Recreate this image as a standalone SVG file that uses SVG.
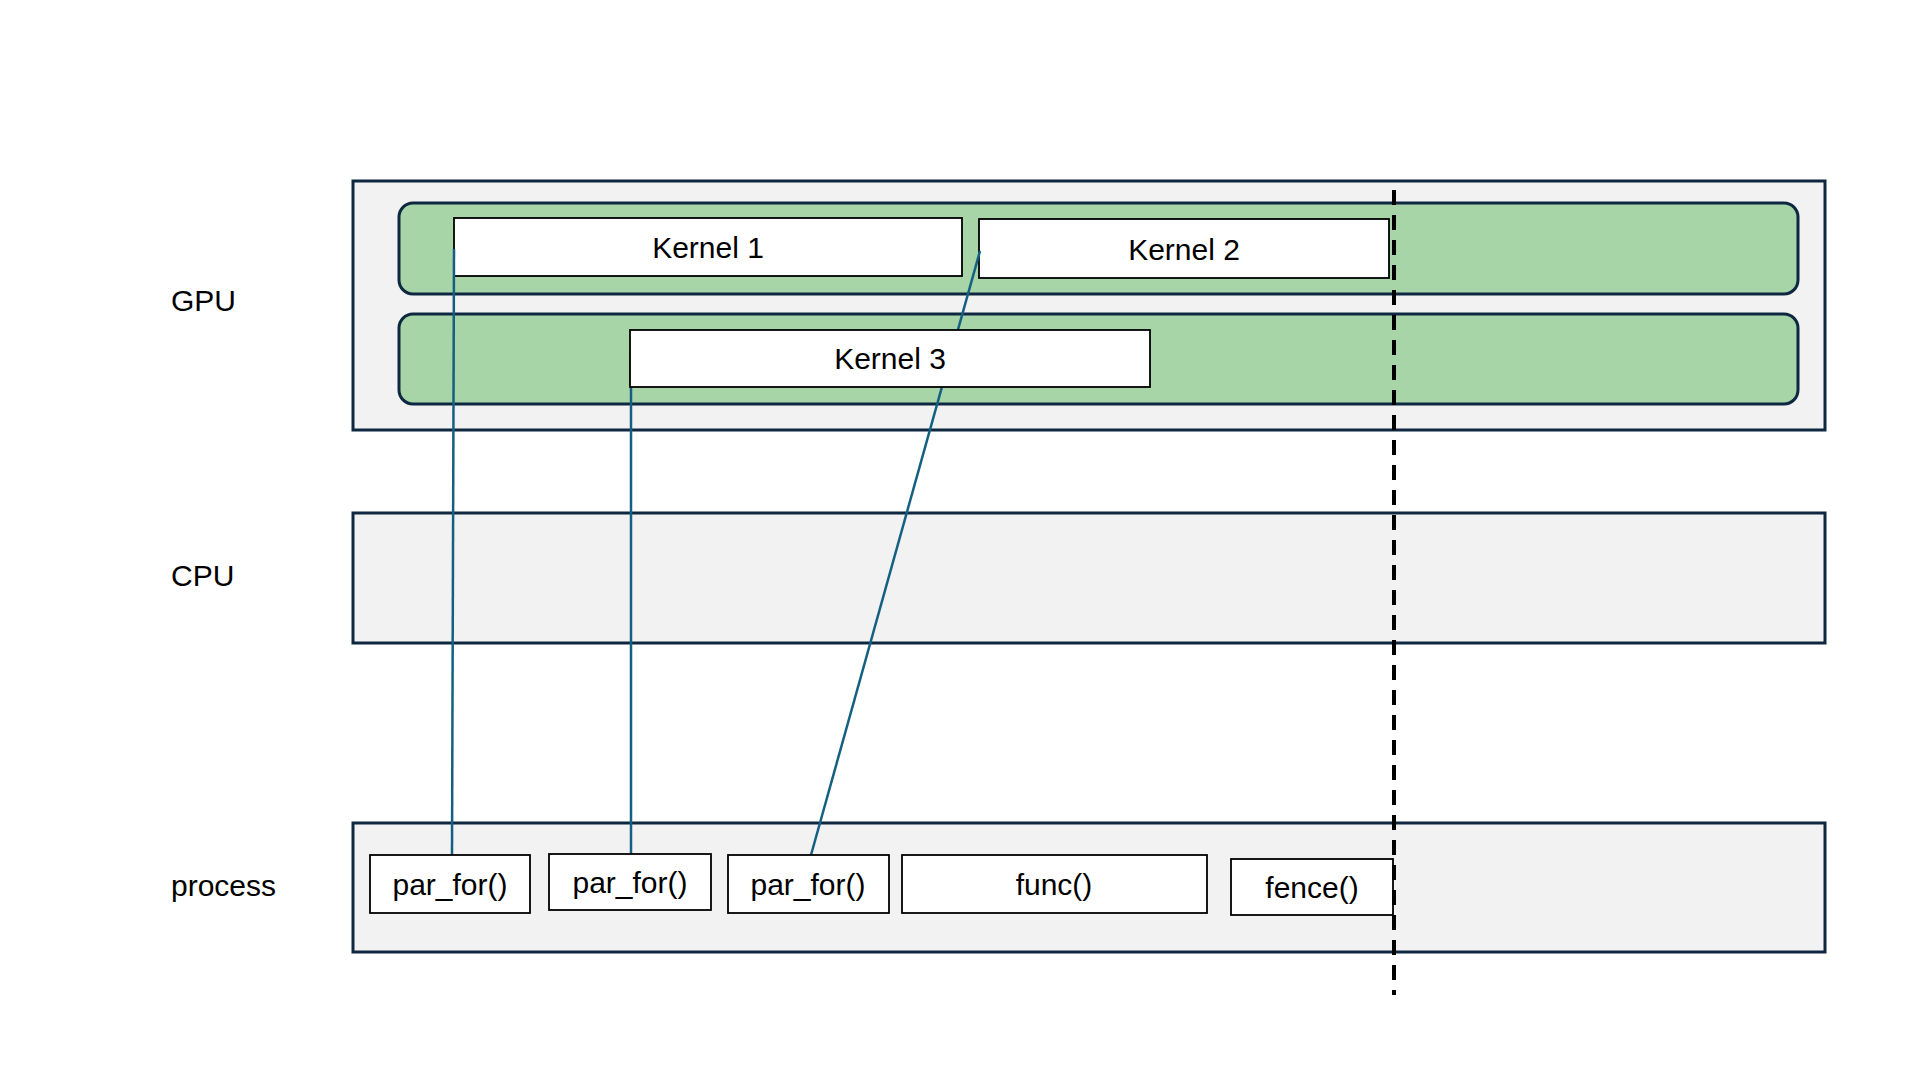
<svg xmlns="http://www.w3.org/2000/svg" width="1920" height="1080" viewBox="0 0 1920 1080">
<style>
.band{fill:#f2f2f2;stroke:#0e2841;stroke-width:3}
.lane{fill:#a8d5a8;stroke:#0e2841;stroke-width:3}
.box{fill:#fff;stroke:#000;stroke-width:1.8}
.t{font-family:"Liberation Sans",Arial,sans-serif;font-size:30px;fill:#000}
.c{text-anchor:middle;dominant-baseline:central}
.conn{stroke:#156082;stroke-width:2.5;fill:none}
</style>
<rect width="1920" height="1080" fill="#fff"/>
<g id="gpu"><rect class="band" x="353" y="181" width="1472" height="249"/><text class="t" x="171" y="300" dominant-baseline="central">GPU</text></g>
<g id="lane1"><rect class="lane" x="399" y="203" width="1399" height="91" rx="14"/></g>
<g id="lane2"><rect class="lane" x="399" y="314" width="1399" height="90" rx="14"/></g>
<g id="cpu"><rect class="band" x="353" y="513" width="1472" height="130"/><text class="t" x="171" y="575" dominant-baseline="central">CPU</text></g>
<g id="process"><rect class="band" x="353" y="823" width="1472" height="129"/><text class="t" x="171" y="885" dominant-baseline="central">process</text></g>
<g id="kernel1"><rect class="box" x="454" y="218" width="508" height="58"/><text class="t c" x="708" y="247">Kernel 1</text></g>
<g id="kernel2"><rect class="box" x="979" y="219" width="410" height="59"/><text class="t c" x="1184" y="249">Kernel 2</text></g>
<g id="connectors">
<line class="conn" x1="454" y1="249" x2="452" y2="855"/>
<line class="conn" x1="631" y1="358" x2="631" y2="854"/>
<line class="conn" x1="980" y1="251" x2="811" y2="855"/>
</g>
<g id="kernel3"><rect class="box" x="630" y="330" width="520" height="57"/><text class="t c" x="890" y="358">Kernel 3</text></g>
<g id="pf1"><rect class="box" x="370" y="855" width="160" height="58"/><text class="t c" x="450" y="884">par_for()</text></g>
<g id="pf2"><rect class="box" x="549" y="854" width="162" height="56"/><text class="t c" x="630" y="882">par_for()</text></g>
<g id="pf3"><rect class="box" x="728" y="855" width="161" height="58"/><text class="t c" x="808" y="884">par_for()</text></g>
<g id="func"><rect class="box" x="902" y="855" width="305" height="58"/><text class="t c" x="1054" y="884">func()</text></g>
<g id="fence"><rect class="box" x="1231" y="859" width="162" height="56"/><text class="t c" x="1312" y="887">fence()</text></g>
<g id="barrier"><line x1="1394" y1="190" x2="1394" y2="995" stroke="#000" stroke-width="4" stroke-dasharray="15,10"/></g>
</svg>
